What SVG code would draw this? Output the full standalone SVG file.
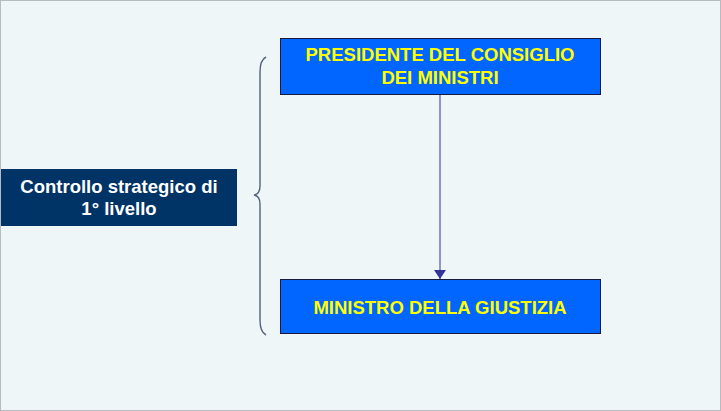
<svg xmlns="http://www.w3.org/2000/svg" width="721" height="411" viewBox="0 0 721 411">
<style>
.box{fill:#0066FF;stroke:#1a1a40;stroke-width:1}
.t{font-family:"Liberation Sans",Arial,sans-serif;font-weight:bold;font-size:18.5px;text-anchor:middle}
.y{fill:#FFFF00}
.w{fill:#FFFFFF}
</style>
<defs>
<marker id="ah" viewBox="0 0 10 10" refX="10" refY="5" markerWidth="9" markerHeight="12" markerUnits="userSpaceOnUse" orient="auto" preserveAspectRatio="none">
<path d="M0,0 L10,5 L0,10 Z" fill="#333399"/>
</marker>
</defs>
<rect x="0.5" y="0.5" width="720" height="410" fill="#EEF6F8" stroke="#B8BCC0" stroke-width="1"/>
<g id="connectors">
<line x1="440" y1="94" x2="440" y2="279" stroke="#333399" stroke-width="1" marker-end="url(#ah)"/>
<path d="M266,57 Q260,60 260,72 L260,186 Q260,194 254,195 Q260,196 260,204 L260,320 Q260,332 266,335" fill="none" stroke="#55627f" stroke-width="1.4"/>
</g>
<g id="presidente">
<rect class="box" x="280.5" y="38.5" width="320" height="56"/>
<text class="t y" x="440" y="61">PRESIDENTE DEL CONSIGLIO</text>
<text class="t y" x="440" y="84">DEI MINISTRI</text>
</g>
<g id="ministro">
<rect class="box" x="280.5" y="279.5" width="320" height="54"/>
<text class="t y" x="440" y="314">MINISTRO DELLA GIUSTIZIA</text>
</g>
<g id="controllo">
<rect x="1" y="169" width="236" height="57" fill="#003366"/>
<text class="t w" x="119" y="193">Controllo strategico di</text>
<text class="t w" x="119" y="215">1° livello</text>
</g>
</svg>
